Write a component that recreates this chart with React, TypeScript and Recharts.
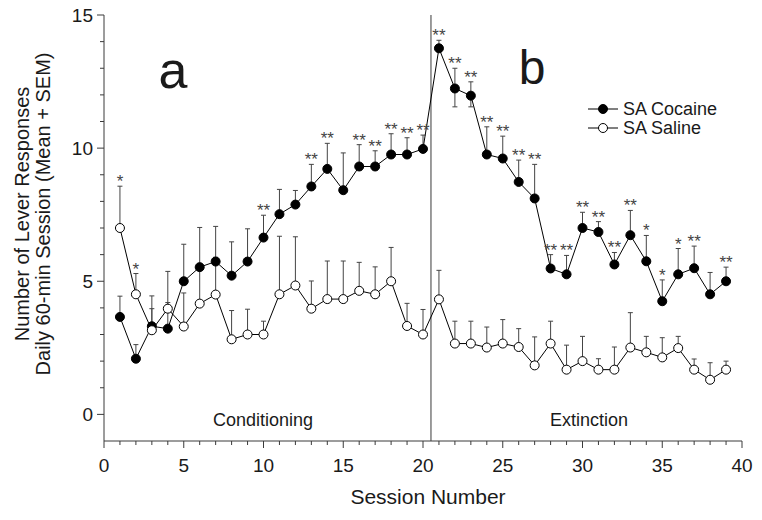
import React from "react";
import {
	ErrorBar,
	LabelList,
	Line,
	LineChart,
	ReferenceLine,
	XAxis,
	YAxis,
} from "recharts";

const sessions = [
	1, 2, 3, 4, 5, 6, 7, 8, 9, 10, 11, 12, 13, 14, 15, 16, 17, 18, 19, 20, 21,
	22, 23, 24, 25, 26, 27, 28, 29, 30, 31, 32, 33, 34, 35, 36, 37, 38, 39,
];

const cocaineMean = [
	3.66, 2.09, 3.31, 3.22, 5.0, 5.53, 5.74, 5.21, 5.74, 6.64, 7.52, 7.88, 8.56,
	9.22, 8.42, 9.31, 9.31, 9.76, 9.76, 9.97, 13.75, 12.24, 11.97, 9.76, 9.61,
	8.73, 8.11, 5.48, 5.26, 7.0, 6.85, 5.63, 6.73, 5.75, 4.25, 5.26, 5.49, 4.51,
	5.0,
];
const cocaineSemUp = [
	0.78, 0.53, 1.14, 2.15, 1.39, 1.49, 1.32, 1.27, 1.23, 0.84, 0.93, 0.53, 0.83,
	0.96, 1.4, 0.82, 0.59, 0.78, 0.63, 0.52, 0.3, 0.76, 0.52, 1.04, 0.84, 0.82,
	1.28, 0.52, 0.71, 0.59, 0.39, 0.45, 0.93, 0.97, 0.8, 0.97, 0.83, 0.82, 0.53,
];
const cocaineSemDown = [
	0, 0, 0, 0, 0, 0, 0, 0, 0, 0, 0, 0, 0, 0, 0, 0, 0, 0, 0, 0, 0, 0.69, 0.42,
	0, 0, 0, 0, 0, 0, 0, 0, 0, 0, 0, 0, 0, 0, 0, 0,
];
const cocaineSig = [
	"", "", "", "", "", "", "", "", "", "**", "", "", "**", "**", "", "**", "**",
	"**", "**", "**", "**", "**", "**", "**", "**", "**", "**", "**", "**", "**",
	"**", "**", "**", "*", "*", "*", "**", "", "**",
];

const salineMean = [
	7.0, 4.51, 3.16, 3.97, 3.3, 4.16, 4.5, 2.82, 3.0, 3.0, 4.51, 4.84, 3.97,
	4.33, 4.33, 4.64, 4.51, 5.0, 3.32, 3.0, 4.32, 2.66, 2.66, 2.51, 2.66, 2.53,
	1.84, 2.66, 1.68, 2.0, 1.68, 1.68, 2.51, 2.33, 2.14, 2.49, 1.68, 1.3, 1.68,
];
const salineSemUp = [
	1.57, 0.78, 0.81, 0.23, 1.26, 1.5, 1.4, 1.08, 0.95, 0.5, 2.18, 1.83, 1.04,
	1.43, 1.43, 1.07, 1.03, 1.27, 0.85, 0.94, 1.09, 0.84, 0.84, 0.77, 0.9, 0.69,
	1.07, 0.84, 0.92, 0.93, 0.41, 0.85, 1.31, 0.6, 0.74, 0.44, 0.4, 0.64, 0.32,
];
const salineSig = [
	"*", "*", "", "", "", "", "", "", "", "", "", "", "", "", "", "", "", "", "",
	"", "", "", "", "", "", "", "", "", "", "", "", "", "", "", "", "", "", "",
	"",
];

const legendItems = [
	{ name: "SA Cocaine", fill: "#000" },
	{ name: "SA Saline", fill: "#fff" },
];

const xTicks = Array.from({ length: 41 }, (_, i) => i);
const yTicks = Array.from({ length: 16 }, (_, i) => i);
const phaseBoundary = 20.5;

const data = sessions.map((s, i) => ({
	session: s,
	cocaine: cocaineMean[i],
	cocaineErr: [cocaineSemDown[i], cocaineSemUp[i]],
	cocaineTop: cocaineMean[i] + cocaineSemUp[i],
	cocaineSig: cocaineSig[i],
	saline: salineMean[i],
	salineErr: [0, salineSemUp[i]],
	salineTop: salineMean[i] + salineSemUp[i],
	salineSig: salineSig[i],
}));

const FONT = "'Liberation Sans', Arial, Helvetica, sans-serif";
const AXIS = "#3a3a3a";

const YTick = ({ x, y, payload }: any) => {
	const major = payload.value % 5 === 0;
	return (
		<g>
			<line x1={x - (major ? 7 : 4)} x2={x} y1={y} y2={y} stroke={AXIS} />
			{major && (
				<text
					x={x - 11}
					y={y}
					dy="0.36em"
					textAnchor="end"
					fontSize={19}
					fontFamily={FONT}
					fill="#1a1a1a"
				>
					{payload.value}
				</text>
			)}
		</g>
	);
};

const XTick = ({ x, y, payload }: any) => {
	const major = payload.value % 5 === 0;
	return (
		<g>
			<line x1={x} x2={x} y1={y} y2={y + (major ? 7 : 4)} stroke={AXIS} />
			{major && (
				<text
					x={x}
					y={y + 31}
					textAnchor="middle"
					fontSize={19}
					fontFamily={FONT}
					fill="#1a1a1a"
				>
					{payload.value}
				</text>
			)}
		</g>
	);
};

const Star = ({ x, y, value }: any) =>
	value ? (
		<text
			x={x}
			y={y + 1}
			textAnchor="middle"
			fontSize={17}
			fontFamily={FONT}
			fill="#444"
		>
			{value}
		</text>
	) : null;

const LegendBox = () => (
	<div
		style={{
			position: "absolute",
			left: 586,
			top: 99,
			fontFamily: FONT,
			fontSize: 18,
			lineHeight: 1,
			color: "#1a1a1a",
		}}
	>
		{legendItems.map((item) => (
			<div
				key={item.name}
				style={{ display: "flex", alignItems: "center", height: 19 }}
			>
				<svg width={36} height={16}>
					<line x1={2} x2={32} y1={8} y2={8} stroke="#000" />
					<circle cx={17} cy={8} r={4.5} fill={item.fill} stroke="#000" />
				</svg>
				<span style={{ marginLeft: 1 }}>{item.name}</span>
			</div>
		))}
	</div>
);

export default function App() {
	return (
		<div
			style={{
				position: "absolute",
				left: 0,
				top: 0,
				width: 762,
				height: 520,
				background: "#fff",
			}}
		>
			<LineChart
				width={762}
				height={520}
				data={data}
				margin={{ top: 15, right: 20, bottom: 0, left: 0 }}
			>
				<XAxis
					dataKey="session"
					type="number"
					domain={[0, 40]}
					ticks={xTicks}
					interval={0}
					height={79}
					tickSize={0}
					tickMargin={0}
					stroke={AXIS}
					tick={<XTick />}
				/>
				<YAxis
					type="number"
					domain={[-1, 15]}
					ticks={yTicks}
					interval={0}
					width={104}
					tickSize={0}
					tickMargin={0}
					stroke={AXIS}
					tick={<YTick />}
				/>
				<ReferenceLine x={phaseBoundary} stroke={AXIS} strokeWidth={1} />
				<Line
					dataKey="cocaine"
					stroke="none"
					dot={false}
					activeDot={false}
					legendType="none"
					isAnimationActive={false}
				>
					<ErrorBar
						dataKey="cocaineErr"
						direction="y"
						width={2.5}
						stroke="#444"
						strokeWidth={1}
					/>
				</Line>
				<Line
					dataKey="saline"
					stroke="none"
					dot={false}
					activeDot={false}
					legendType="none"
					isAnimationActive={false}
				>
					<ErrorBar
						dataKey="salineErr"
						direction="y"
						width={2.5}
						stroke="#444"
						strokeWidth={1}
					/>
				</Line>
				<Line
					name="SA Cocaine"
					dataKey="cocaine"
					stroke="#000"
					strokeWidth={1}
					dot={{ r: 4.5, fill: "#000", stroke: "#000", strokeWidth: 1 }}
					isAnimationActive={false}
				/>
				<Line
					name="SA Saline"
					dataKey="saline"
					stroke="#000"
					strokeWidth={1}
					dot={{ r: 4.5, fill: "#fff", stroke: "#000", strokeWidth: 1 }}
					isAnimationActive={false}
				/>
				<Line
					dataKey="cocaineTop"
					stroke="none"
					dot={false}
					activeDot={false}
					legendType="none"
					isAnimationActive={false}
				>
					<LabelList dataKey="cocaineSig" content={<Star />} />
				</Line>
				<Line
					dataKey="salineTop"
					stroke="none"
					dot={false}
					activeDot={false}
					legendType="none"
					isAnimationActive={false}
				>
					<LabelList dataKey="salineSig" content={<Star />} />
				</Line>
			</LineChart>
			<LegendBox />
			<svg
				width={762}
				height={520}
				style={{ position: "absolute", left: 0, top: 0, pointerEvents: "none" }}
				fontFamily={FONT}
				fill="#1a1a1a"
			>
				<text x={173} y={88} fontSize={52} textAnchor="middle">
					a
				</text>
				<text x={532} y={84} fontSize={48} textAnchor="middle">
					b
				</text>
				<text x={263} y={426} fontSize={18} textAnchor="middle">
					Conditioning
				</text>
				<text x={589} y={426} fontSize={18} textAnchor="middle">
					Extinction
				</text>
				<text x={428} y={504} fontSize={21} textAnchor="middle">
					Session Number
				</text>
				<text
					transform="translate(29 214) rotate(-90)"
					fontSize={20}
					textAnchor="middle"
				>
					Number of Lever Responses
				</text>
				<text
					transform="translate(50 214) rotate(-90)"
					fontSize={20}
					textAnchor="middle"
				>
					Daily 60-min Session (Mean + SEM)
				</text>
			</svg>
		</div>
	);
}
